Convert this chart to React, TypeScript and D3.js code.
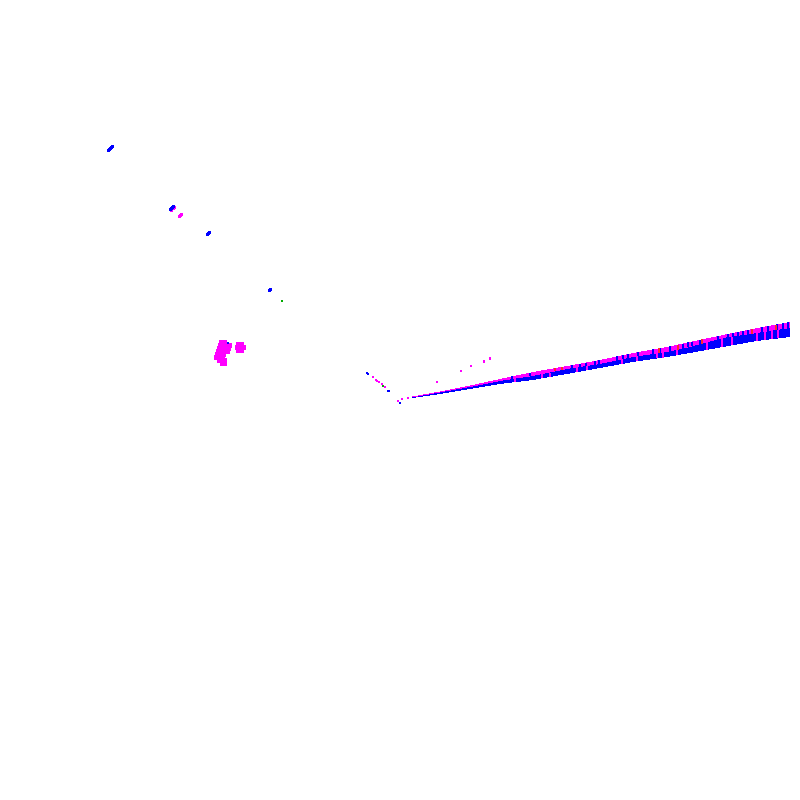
import React from 'react';
import * as d3 from 'd3';

const size = 800;

// main wedge, values
const wedgeX = [3, 10, 17.5, 25, 33.25, 41.75, 50, 58.25, 66.75, 72.5, 80.75, 89.25, 97.5];
const wedgeTop = [0.875, 2.125, 3.625, 5.25, 7, 8.5, 10, 11.75, 13.25, 14.5, 16.25, 18, 19.5];
const wedgeSplit = [0.625, 1.875, 3.25, 4.75, 6, 7.75, 9, 10.75, 12, 13.25, 15.5, 16.75, 18];
const wedgeBottom = [0.5, 1.5, 2.75, 4, 5, 6.5, 8, 9.5, 10.75, 11.75, 13.25, 14.75, 15.75];

const blueStripes = [28, 32.5, 38.75, 43, 45, 46.5, 48.75, 49.75, 54.25, 55.75, 57, 59.5, 63.25, 65, 67.5, 69.5, 70.75, 72, 73, 75, 79.5, 82, 83.25, 84.5, 85.75, 87, 90.5, 92, 94.25, 95.75, 97];
const magentaStripes = [28.75, 35.5, 37.5, 44.25, 46.75, 55.5, 59.25, 64.25, 65.75, 69.25, 76.75, 80.5, 83, 89.25, 91.25, 93, 94.5];
const orangeStripes = [38.75, 40.5, 64.75, 69.5, 75.5, 88, 94];

// scattered points [x, y]
const magentaTail: [number, number][] = [
  [-6.75, 5.75], [-6, 5], [-5.75, 4.75], [-5.25, 4.5], [-4.5, 4], [-3.75, 3.25],
  [-0.5, -0.25], [0.5, 0.25], [2, 0.5],
  [9.25, 4.5], [15.25, 7.25], [17.75, 8.5], [21, 9.75], [21, 9.5], [22.5, 10.5], [22.5, 10.25],
];
const blueTail: [number, number][] = [
  [-8.25, 6.75], [-8, 6.5], [-3, 2.25], [-2.75, 2.25], [0, -0.75],
];
const magentaStreaks: [number, number][] = [
  [-57.25, 47.5], [-56.75, 47.9], [-56.5, 48.1],
  [-55.25, 46], [-55, 46.25], [-54.75, 46.5],
];
const blueStreaks: [number, number][] = [
  [-73, 62.5], [-72.75, 62.75], [-72.5, 63], [-72.25, 63.25], [-72, 63.5],
  [-57.5, 47.75], [-57.25, 48], [-57, 48.25], [-56.75, 48.5],
  [-48.25, 41.5], [-48, 41.75], [-47.75, 42],
  [-32.75, 27.5], [-32.5, 27.6],
];
const greenSmall: [number, number][] = [[-4.25, 3.5], [-29.5, 24.75]];

const magentaBlobs: [number, number][] = [
  [-44.75, 14.5], [-44, 14.5],
  [-45, 13.75], [-44.25, 13.75], [-43.5, 13.75], [-42.75, 13.75],
  [-45.25, 13], [-44.5, 13], [-43.75, 13], [-43, 13],
  [-45.5, 12.25], [-44.75, 12.25], [-44, 12.25], [-43.25, 12.25],
  [-45.75, 11.5], [-45, 11.5], [-44.25, 11.5],
  [-46, 10.75], [-45.25, 10.75], [-44.5, 10.75],
  [-45.25, 10], [-44.5, 10], [-44, 10],
  [-44.5, 9.25], [-44, 9.25],
  [-40.5, 14], [-39.75, 14],
  [-40.75, 13.25], [-40, 13.25], [-39.25, 13.25],
  [-40.5, 12.5], [-39.75, 12.5],
];
const blueBlobs: [number, number][] = [[-43, 14.25]];

const x = d3.scaleLinear().domain([-100, 100]).range([0, size]);
const y = d3.scaleLinear().domain([-100, 100]).range([size, 0]);

const edgeTop = d3.scaleLinear().domain(wedgeX).range(wedgeTop);
const edgeSplit = d3.scaleLinear().domain(wedgeX).range(wedgeSplit);
const edgeBottom = d3.scaleLinear().domain(wedgeX).range(wedgeBottom);

const band = (upper: number[], lower: number[]) =>
  d3.area<number>()
    .x(d => x(d))
    .y0((_, i) => y(lower[i]))
    .y1((_, i) => y(upper[i]))(wedgeX) ?? '';

const Dots = ({ data, color, s }: { data: [number, number][]; color: string; s: number }) => (
  <g fill={color}>
    {data.map(([a, b], i) => (
      <rect key={i} x={x(a) - s / 2} y={y(b) - s / 2} width={s} height={s} />
    ))}
  </g>
);

const Stripes = ({ data, color, hi, lo }: {
  data: number[];
  color: string;
  hi: (v: number) => number;
  lo: (v: number) => number;
}) => (
  <g fill={color}>
    {data.map((d, i) => (
      <rect key={i} x={x(d) - 1} y={y(hi(d))} width={2} height={Math.max(1, y(lo(d)) - y(hi(d)))} />
    ))}
  </g>
);

export default function App() {
  return (
    <svg
      width={size}
      height={size}
      shapeRendering="crispEdges"
      style={{ position: 'absolute', left: 0, top: 0, background: '#fff' }}
    >
      <path d={band(wedgeSplit, wedgeBottom)} fill="#0000ff" />
      <path d={band(wedgeTop, wedgeSplit)} fill="#ff00ff" />
      <Stripes data={blueStripes} color="#0000ff" hi={edgeTop} lo={edgeSplit} />
      <Stripes data={magentaStripes} color="#ff00ff" hi={edgeSplit} lo={edgeBottom} />
      <Stripes data={orangeStripes} color="#ff2a2a" hi={edgeTop} lo={edgeSplit} />
      <Dots data={magentaBlobs} color="#ff00ff" s={5} />
      <Dots data={blueBlobs} color="#0000ff" s={2} />
      <Dots data={magentaStreaks} color="#ff00ff" s={3} />
      <Dots data={blueStreaks} color="#0000ff" s={3} />
      <Dots data={magentaTail} color="#ff00ff" s={1.5} />
      <Dots data={blueTail} color="#0000ff" s={1.5} />
      <Dots data={greenSmall} color="#00aa00" s={1.5} />
    </svg>
  );
}
